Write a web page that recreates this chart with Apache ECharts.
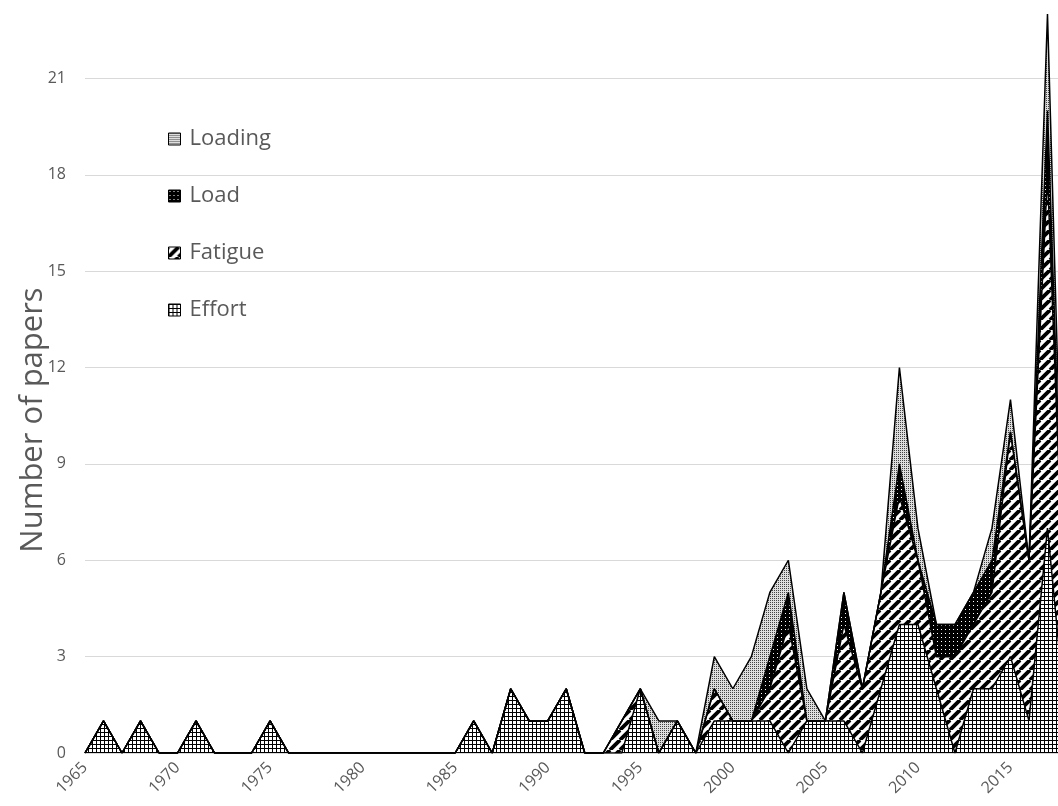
<!DOCTYPE html>
<html>
<head>
<meta charset="utf-8">
<script src="https://cdn.jsdelivr.net/npm/echarts@6/dist/echarts.min.js"></script>
<style>
  html, body { margin: 0; padding: 0; background: #fff; }
  #chart { width: 1058px; height: 806px; }
</style>
</head>
<body>
<div id="chart"></div>
<script>
// years on the x axis (2018 sits just past the right edge)
const years = [];
for (let y = 1965; y <= 2018; y++) years.push(String(y));

const effort = [
  0, 1, 0, 1, 0, 0, 1, 0, 0, 0, // 1965-1974
  1, 0, 0, 0, 0, 0, 0, 0, 0, 0, // 1975-1984
  0, 1, 0, 2, 1, 1, 2, 0, 0, 0, // 1985-1994
  2, 0, 1, 0, 1, 1, 1, 1, 0, 1, // 1995-2004
  1, 1, 0, 2, 4, 4, 2, 0, 2, 2, // 2005-2014
  3, 1, 7, 1                    // 2015-2018
];
const fatigue = [
  0, 0, 0, 0, 0, 0, 0, 0, 0, 0,
  0, 0, 0, 0, 0, 0, 0, 0, 0, 0,
  0, 0, 0, 0, 0, 0, 0, 0, 0, 1,
  0, 0, 0, 0, 1, 0, 0, 1, 4, 0,
  0, 3, 2, 3, 4, 2, 1, 3, 2, 3,
  7, 5, 11, 2
];
const load = [
  0, 0, 0, 0, 0, 0, 0, 0, 0, 0,
  0, 0, 0, 0, 0, 0, 0, 0, 0, 0,
  0, 0, 0, 0, 0, 0, 0, 0, 0, 0,
  0, 0, 0, 0, 0, 0, 0, 1, 1, 0,
  0, 1, 0, 0, 1, 0, 1, 1, 1, 1,
  0, 0, 2, 0
];
const loading = [
  0, 0, 0, 0, 0, 0, 0, 0, 0, 0,
  0, 0, 0, 0, 0, 0, 0, 0, 0, 0,
  0, 0, 0, 0, 0, 0, 0, 0, 0, 0,
  0, 1, 0, 0, 1, 1, 2, 2, 1, 1,
  0, 0, 0, 0, 3, 1, 0, 0, 0, 1,
  1, 0, 3, 0
];
const legendOrder = ["Loading", "Load", "Fatigue", "Effort"];

// small canvas tiles used as fill patterns
function tile(size, draw) {
  const c = document.createElement("canvas");
  c.width = size;
  c.height = size;
  draw(c.getContext("2d"), size);
  return { image: c, repeat: "repeat" };
}

const gridFill = tile(4, function (ctx, s) {
  ctx.fillStyle = "#fff";
  ctx.fillRect(0, 0, s, s);
  ctx.fillStyle = "#000";
  ctx.fillRect(0, 0, s, 1);
  ctx.fillRect(0, 0, 1, s);
});
const stripeFill = tile(10, function (ctx, s) {
  ctx.fillStyle = "#fff";
  ctx.fillRect(0, 0, s, s);
  ctx.strokeStyle = "#000";
  ctx.lineWidth = 3.8;
  [-s, 0, s].forEach(function (k) {
    ctx.beginPath();
    ctx.moveTo(k, s);
    ctx.lineTo(k + s, 0);
    ctx.stroke();
  });
});
const blackDotFill = tile(4, function (ctx, s) {
  ctx.fillStyle = "#000";
  ctx.fillRect(0, 0, s, s);
  ctx.fillStyle = "#fff";
  ctx.fillRect(1, 1, 1, 1);
});
const greyDotFill = tile(2, function (ctx, s) {
  ctx.fillStyle = "#dedede";
  ctx.fillRect(0, 0, s, s);
  ctx.fillStyle = "#444";
  ctx.fillRect(0, 0, 1, 1);
});

const fills = {
  Effort: gridFill,
  Fatigue: stripeFill,
  Load: blackDotFill,
  Loading: greyDotFill
};

function areaSeries(name, values) {
  return {
    name: name,
    type: "line",
    stack: "papers",
    data: values,
    symbol: "none",
    showSymbol: false,
    lineStyle: { color: "#000", width: 1.5 },
    itemStyle: { color: "#000" },
    areaStyle: { color: fills[name], opacity: 1 },
    emphasis: { disabled: true }
  };
}

const myChart = echarts.init(document.getElementById("chart"));

const option = {
  animation: false,
  backgroundColor: "#fff",
  grid: {
    left: 85,
    right: -8,
    top: -18,
    bottom: 53,
    outerBoundsMode: "none",
    containLabel: false
  },
  legend: {
    orient: "vertical",
    left: 168,
    top: 128,
    padding: 0,
    icon: "rect",
    itemWidth: 12,
    itemHeight: 12,
    itemGap: 35,
    itemStyle: { borderColor: "#000", borderWidth: 1 },
    textStyle: {
      fontFamily: "Open Sans",
      fontSize: 22,
      color: "#595959",
      lineHeight: 22,
      padding: [0, 0, 0, 4]
    },
    data: legendOrder.map(function (n) {
      return { name: n, itemStyle: { color: fills[n] } };
    })
  },
  graphic: [
    {
      type: "text",
      x: 33,
      y: 420,
      rotation: Math.PI / 2,
      style: {
        text: "Number of papers",
        fontFamily: "Open Sans",
        fontSize: 31,
        fill: "#595959",
        align: "center",
        verticalAlign: "middle"
      }
    }
  ],
  xAxis: {
    type: "category",
    boundaryGap: false,
    data: years,
    axisTick: { show: false },
    axisLine: { lineStyle: { color: "#d9d9d9", width: 1 } },
    axisLabel: {
      interval: 4,
      rotate: 45,
      margin: 12,
      color: "#595959",
      fontFamily: "Open Sans",
      fontSize: 16
    },
    splitLine: { show: false }
  },
  yAxis: {
    type: "value",
    min: 0,
    max: 24,
    interval: 3,
    axisLine: { show: false },
    axisTick: { show: false },
    axisLabel: {
      margin: 19,
      showMaxLabel: false,
      color: "#595959",
      fontFamily: "Open Sans",
      fontSize: 16
    },
    splitLine: { lineStyle: { color: "#d9d9d9", width: 1 } }
  },
  series: [
    areaSeries("Effort", effort),
    areaSeries("Fatigue", fatigue),
    areaSeries("Load", load),
    areaSeries("Loading", loading)
  ]
};

myChart.setOption(option);

window.addEventListener("resize", function () {
  myChart.resize();
});
</script>
</body>
</html>
